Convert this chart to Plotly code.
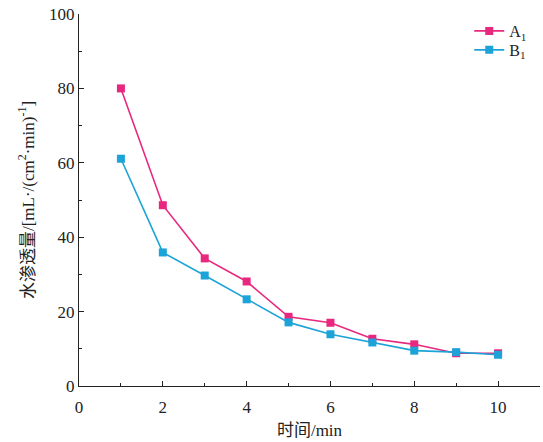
import plotly.graph_objects as go

time_min = [1, 2, 3, 4, 5, 6, 7, 8, 9, 10]
a1_values = [80.0, 48.6, 34.3, 28.1, 18.6, 17.0, 12.7, 11.2, 8.8, 8.8]
b1_values = [61.1, 35.9, 29.7, 23.3, 17.1, 13.9, 11.7, 9.5, 9.1, 8.4]
x_ticks = [0, 2, 4, 6, 8, 10]
y_ticks = [0, 20, 40, 60, 80, 100]

FONT = "Liberation Serif, Times New Roman, Noto Sans CJK SC, serif"
PINK = "#E8277E"
BLUE = "#1CA3D8"

fig = go.Figure()
fig.add_trace(go.Scatter(x=time_min, y=a1_values, mode="lines+markers", name="A<sub>1</sub>",
                         line=dict(color=PINK, width=1.6), legend="legend",
                         marker=dict(symbol="square", size=8, color=PINK)))
fig.add_trace(go.Scatter(x=time_min, y=b1_values, mode="lines+markers", name="B<sub>1</sub>",
                         line=dict(color=BLUE, width=1.6), legend="legend2",
                         marker=dict(symbol="square", size=8, color=BLUE)))

axis_common = dict(showgrid=False, zeroline=False, showline=True, linecolor="#222",
                   linewidth=1.2, ticks="inside", ticklen=5, tickcolor="#222",
                   automargin=False, ticklabeloverflow="allow",
                   tickfont=dict(family=FONT, size=17, color="#222"))

fig.update_xaxes(range=[0, 11], tickvals=x_ticks, ticklabelstandoff=5,
                 minor=dict(ticks="inside", ticklen=3, tickcolor="#222", dtick=1, tick0=0),
                 title=dict(text="时间/min", font=dict(family=FONT, size=17, color="#222"), standoff=8),
                 **axis_common)
fig.update_yaxes(range=[0, 100], tickvals=y_ticks,
                 minor=dict(ticks="inside", ticklen=3, tickcolor="#222", dtick=10, tick0=0),
                 title=dict(text="水渗透量/[mL·/(cm<sup>2</sup>·min)<sup>-1</sup>]",
                            font=dict(family=FONT, size=17, color="#222"), standoff=10),
                 **axis_common)

legend_common = dict(xanchor="left", yanchor="top",
                     font=dict(family=FONT, size=16, color="#222"),
                     bgcolor="rgba(0,0,0,0)", itemwidth=30)

fig.update_layout(
    width=543, height=442,
    margin=dict(l=79, r=3, t=14, b=56),
    paper_bgcolor="white", plot_bgcolor="white",
    showlegend=True,
    legend=dict(x=0.8465, y=1.0, **legend_common),
    legend2=dict(x=0.8465, y=0.949, **legend_common),
)

fig.write_html("out.html", config={"displayModeBar": False},
               post_script="document.body.style.margin='0';")
